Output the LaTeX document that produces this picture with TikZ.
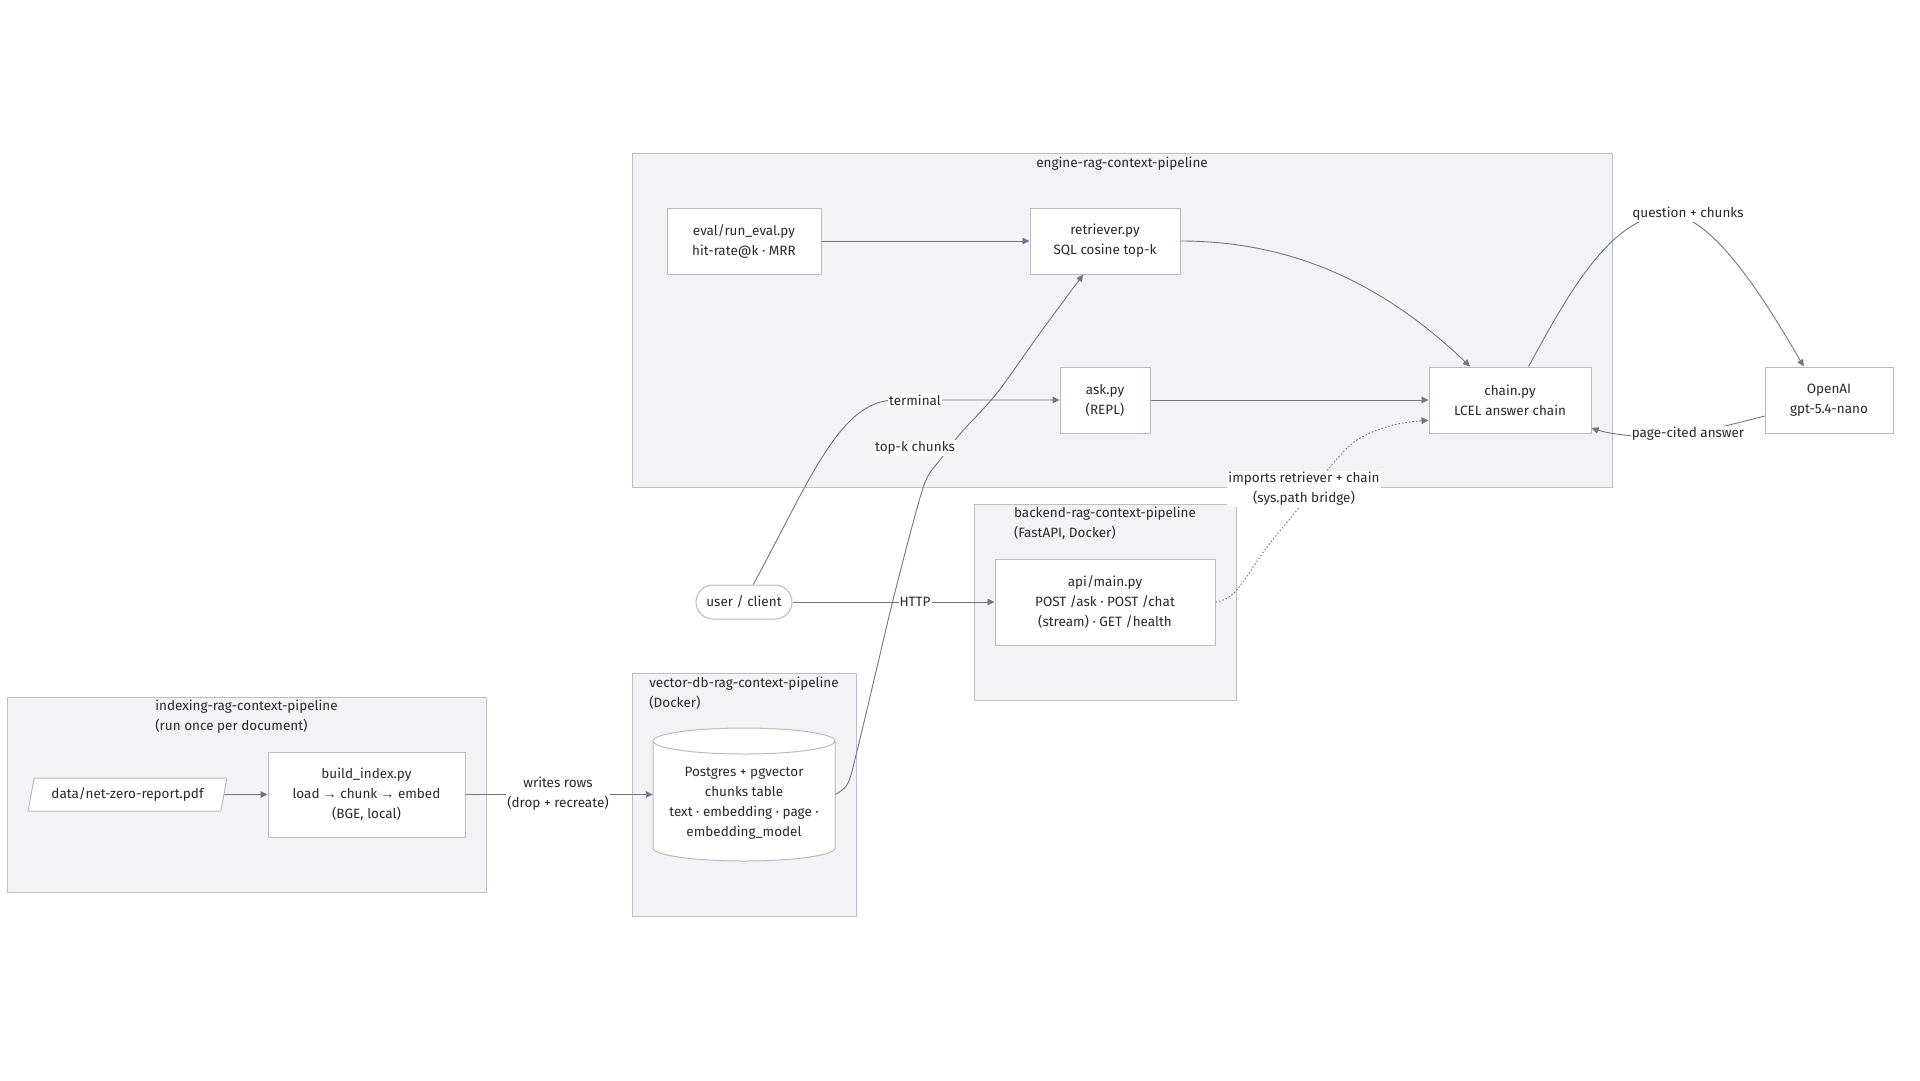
\documentclass[tikz,border=0pt]{standalone}
\usepackage{fontspec}
\setmainfont{Fira Sans}
\newfontfamily\arrowfont{Liberation Sans}
\usetikzlibrary{arrows.meta,calc,shapes.geometric}
\definecolor{clfill}{HTML}{F3F3F6}
\definecolor{clborder}{HTML}{BCBFCA}
\definecolor{ndborder}{HTML}{B7BBC8}
\definecolor{edgecol}{HTML}{707687}
\definecolor{txt}{HTML}{2A2A2A}
\newcommand{\rarr}{{\arrowfont →}}
\begin{document}
\begin{tikzpicture}[x=1pt,y=-1pt,
  font=\fontsize{13.5}{20}\selectfont, text=txt,
  cluster/.style={draw=clborder, fill=clfill, line width=1pt, inner sep=0},
  box/.style={draw=ndborder, fill=white, line width=1pt, align=center, inner sep=0},
  edge/.style={draw=edgecol, line width=0.9pt, -{Triangle[length=7pt,width=6.5pt]}},
  lbl/.style={fill=white, inner xsep=1pt, inner ysep=1.5pt, align=center},
  ctitle/.style={align=left, inner sep=0},
]
\useasboundingbox (0,0) rectangle (1920,1080);
\fill[white] (0,0) rectangle (1920,1080);

% clusters
\node[cluster, minimum width=980, minimum height=334] (engine) at (1122,320) {};
\node[cluster, minimum width=262, minimum height=196] (backend) at (1105,602) {};
\node[cluster, minimum width=224, minimum height=243] (vector) at (744,794.5) {};
\node[cluster, minimum width=479, minimum height=195] (indexing) at (246.5,794.5) {};

\node[inner sep=0] (engineT) at (1122,164) {engine-rag-context-pipeline};
\node[ctitle] (backendT) at (1105,523) {backend-rag-context-pipeline\\(FastAPI, Docker)};
\node[ctitle] (vectorT) at (744,693) {vector-db-rag-context-pipeline\\(Docker)};
\node[ctitle] (indexT) at (246.5,717) {indexing-rag-context-pipeline\\(run once per document)};

% nodes
\node[box, minimum width=154, minimum height=66] (eval) at (744,241) {eval/run\_eval.py\\hit-rate@k · MRR};
\node[box, minimum width=150, minimum height=66] (ret) at (1105,241) {retriever.py\\SQL cosine top-k};
\node[box, minimum width=90, minimum height=66] (ask) at (1105,400) {ask.py\\(REPL)};
\node[box, minimum width=162, minimum height=66] (chain) at (1510,400) {chain.py\\LCEL answer chain};
\node[box, minimum width=128, minimum height=66] (openai) at (1829,400) {OpenAI\\gpt-5.4-nano};
\node[box, rounded corners=17, minimum width=96, minimum height=34] (user) at (744,602) {user / client};
\node[box, minimum width=220, minimum height=86] (api) at (1105,602) {api/main.py\\POST /ask · POST /chat\\(stream) · GET /health};
\node[box, minimum width=197, minimum height=85] (build) at (366.5,794.5) {build\_index.py\\load \rarr{} chunk \rarr{} embed\\(BGE, local)};
\node[box, trapezium, trapezium left angle=70, trapezium right angle=110, trapezium stretches=true, minimum width=199, minimum height=33] (pdf) at (127.5,794.5) {data/net-zero-report.pdf};

% cylinder
\fill[white] (653,741) rectangle (835,848);
\fill[white] (744,848) ellipse[x radius=91, y radius=13];
\draw[draw=ndborder, line width=1pt] (653,741) -- (653,848) arc[start angle=180, end angle=0, x radius=91, y radius=13] -- (835,741);
\draw[draw=ndborder, line width=1pt, fill=white] (744,741) ellipse[x radius=91, y radius=13];
\node[minimum width=182, minimum height=133, inner sep=0] (db) at (744,794.5) {};
\node[align=center, inner sep=0] (dbtext) at (744,803) {Postgres + pgvector\\chunks table\\text · embedding · page ·\\embedding\_model};

% edges
\draw[edge] (eval.east) -- (ret.west);
\draw[edge] (ret.east) .. controls (1300,241) and (1390,290) .. (chain.140);
\draw[edge] (ask.east) -- (chain.west);
\draw[edge] (user.62) .. controls (810,480) and (840,400) .. (895,400) -- (ask.west);
\draw[edge] plot[smooth, tension=0.55] coordinates {(db.east) (848,783) (858,747) (878,663) (893,600) (913,523) (926,480) (940,460) (960,434) (997,393) (1040,333) (ret.237)};
\draw[edge] (user.east) -- (api.west);
\draw[edge, dash pattern=on 1.5pt off 2pt] plot[smooth, tension=0.6] coordinates {(api.east) (1235,592) (1267,547) (1297,510) (1330,467) (1357,440) (1393,425) (chain.194)};
\draw[edge] (chain.61) .. controls (1570,290) and (1610,220) .. (1665,214) .. controls (1710,210) and (1765,300) .. (openai.127);
\draw[edge] plot[smooth, tension=0.6] coordinates {(openai.194) (1725,426) (1688,434) (1640,436) (1610,433) (chain.341)};
\draw[edge] (pdf.east) -- (build.west);
\draw[edge] (build.east) -- (db.west);

% labels
\node[lbl] (lterm) at (915,400) {terminal};
\node[lbl] (ltopk) at (915,448) {top-k chunks};
\node[lbl] (lhttp) at (915,602) {HTTP};
\node[lbl] (limp) at (1304,489) {imports retriever + chain\\(sys.path bridge)};
\node[lbl] (lq) at (1688,214) {question + chunks};
\node[lbl] (lpage) at (1688,434) {page-cited answer};
\node[lbl] (lwrite) at (558,794) {writes rows\\(drop + recreate)};
\end{tikzpicture}
\end{document}
